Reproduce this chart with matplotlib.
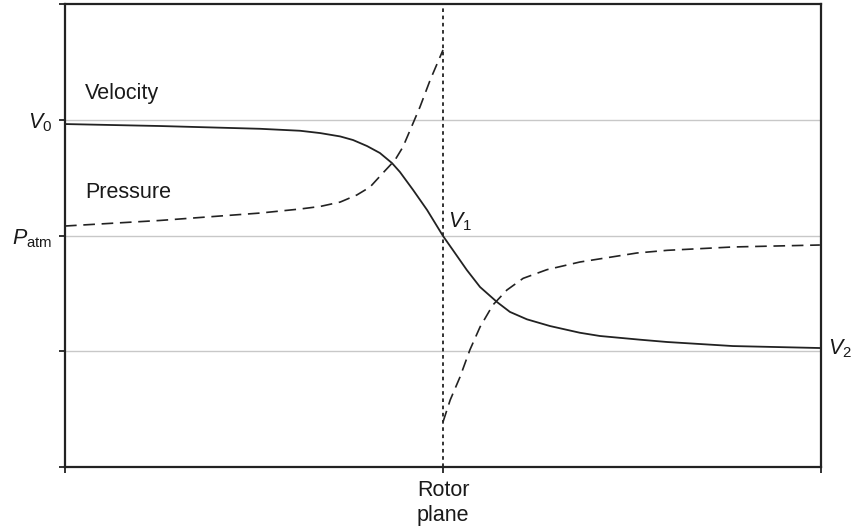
import matplotlib
matplotlib.use("Agg")
import matplotlib.pyplot as plt

plt.rcParams['font.family'] = ['Liberation Sans', 'DejaVu Sans']
plt.rcParams['mathtext.fontset'] = 'custom'
plt.rcParams['mathtext.rm'] = 'Liberation Sans'
plt.rcParams['mathtext.it'] = 'Liberation Sans:italic'
plt.rcParams['font.size'] = 15.5

# velocity through the rotor (solid)
vel_x = [0, 0.251, 0.516, 0.622, 0.675, 0.728, 0.762, 0.799, 0.833, 0.865,
         0.886, 0.921, 0.958, 1.0, 1.026, 1.063, 1.098, 1.143, 1.177, 1.222,
         1.283, 1.362, 1.415, 1.521, 1.593, 1.767, 1.997]
vel_y = [2.963, 2.946, 2.922, 2.905, 2.885, 2.856, 2.825, 2.773, 2.713, 2.626,
         2.549, 2.393, 2.220, 1.996, 1.875, 1.702, 1.555, 1.425, 1.340, 1.276,
         1.218, 1.160, 1.132, 1.100, 1.080, 1.045, 1.028]

# pressure upstream / downstream of the rotor (dashed)
pu_x = [0, 0.251, 0.516, 0.622, 0.675, 0.728, 0.772, 0.807, 0.841, 0.873,
        0.894, 0.921, 0.939, 0.966, 1.0]
pu_y = [2.082, 2.130, 2.194, 2.229, 2.251, 2.289, 2.350, 2.419, 2.540, 2.652,
        2.765, 2.972, 3.110, 3.343, 3.603]
pd_x = [1.0, 1.019, 1.045, 1.071, 1.098, 1.132, 1.169, 1.212, 1.275, 1.362,
        1.513, 1.593, 1.767, 1.997]
pd_y = [0.389, 0.579, 0.778, 1.011, 1.210, 1.400, 1.529, 1.630, 1.705, 1.771,
        1.849, 1.872, 1.901, 1.918]

y_ticks = [0, 1, 2, 3, 4]
y_labels = ['', '', r'$P_{\rm atm}$', r'$V_0$', '']
x_ticks = [0, 1, 2]
x_labels = ['', 'Rotor\nplane', '']

fig = plt.figure(figsize=(8.53, 5.28), dpi=100)
ax = fig.add_axes([0.0762, 0.1155, 0.8863, 0.8769])

line_col = '#222222'
for gy in [1, 2, 3]:
    ax.axhline(gy, color='#c8c8c8', lw=1.0, zorder=0)

ax.plot([1, 1], [0, 4], color=line_col, lw=1.3, linestyle=(0, (2, 2)), zorder=1)
ax.plot(vel_x, vel_y, color=line_col, lw=1.3, zorder=2)
ax.plot(pu_x, pu_y, color=line_col, lw=1.2, linestyle=(0, (7, 4)), zorder=2)
ax.plot(pd_x, pd_y, color=line_col, lw=1.2, linestyle=(0, (7, 4)), zorder=2)

ax.text(0.053, 3.23, 'Velocity', va='center', ha='left', color='#1a1a1a')
ax.text(0.053, 2.37, 'Pressure', va='center', ha='left', color='#1a1a1a')
ax.text(1.013, 2.12, r'$V_1$', va='center', ha='left', color='#1a1a1a')
ax.text(2.018, 1.02, r'$V_2$', va='center', ha='left', color='#1a1a1a', clip_on=False)

ax.set_xlim(0, 2)
ax.set_ylim(0, 4)
ax.set_xticks(x_ticks)
ax.set_xticklabels(x_labels, linespacing=1.3)
ax.set_yticks(y_ticks)
ax.set_yticklabels(y_labels)
ax.tick_params(direction='out', length=4, width=1.3, color=line_col, labelcolor='#1a1a1a', pad=5)
for s in ax.spines.values():
    s.set_linewidth(1.6)
    s.set_color(line_col)

fig.savefig('out.png', dpi=100)
